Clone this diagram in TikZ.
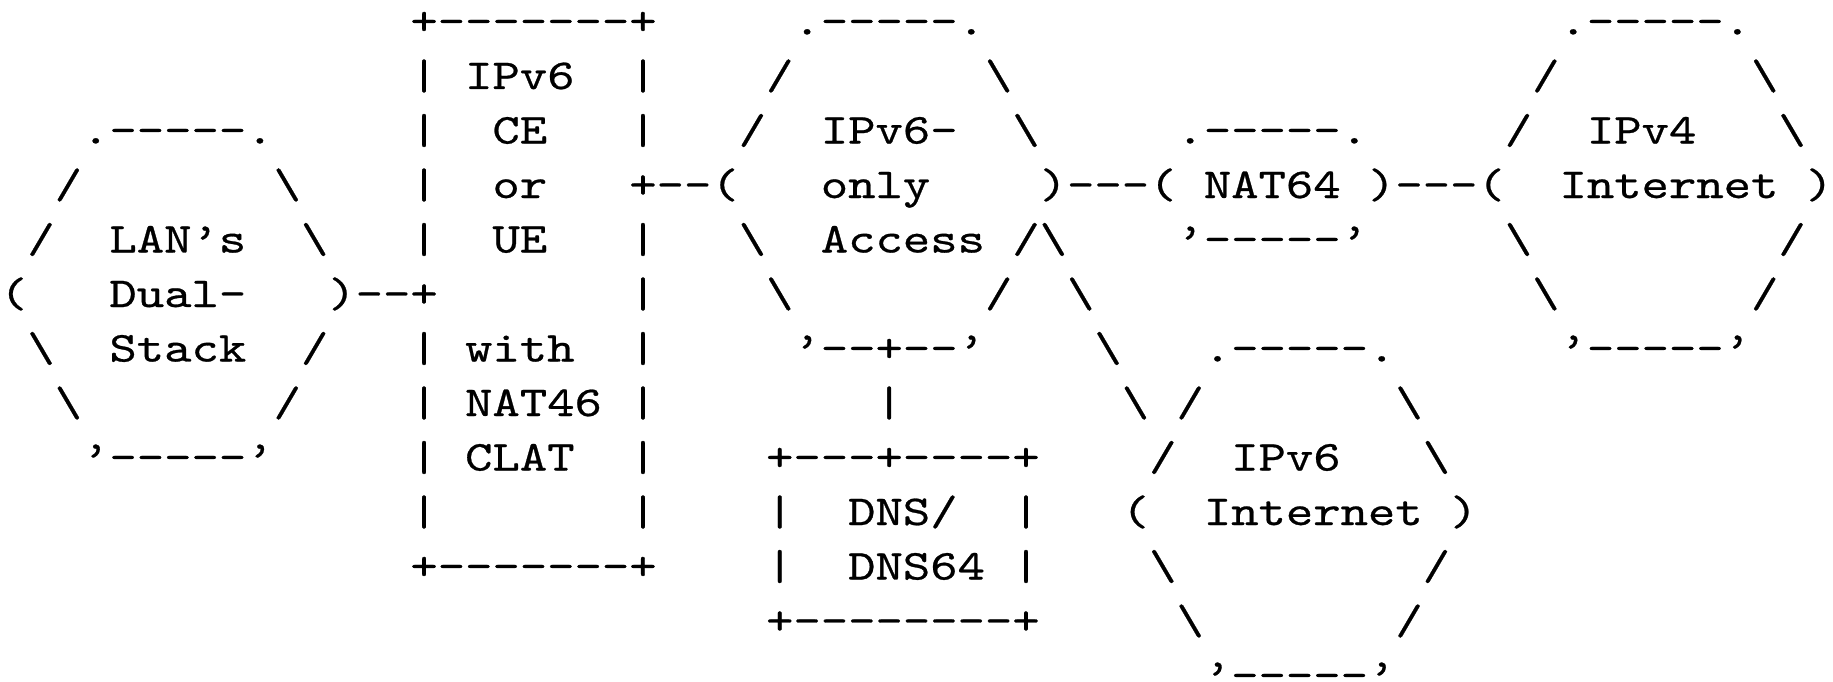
\documentclass[tikz,border=0pt]{standalone}
\usepackage{fontspec}
\setmonofont[FakeStretch=1.2233,FakeBold=0.6]{lmmono10-regular.otf}
\newcommand\bs{\textbackslash}
\tikzset{asc/.style={font=\ttfamily\fontsize{42.6}{50}\selectfont, anchor=base west, inner sep=0pt, outer sep=0pt, text=black}}
\newcommand\putseg[4]{\node[asc] (#1) at ({#3*27.36},{-34.5-54.5*#2}) {#4};}
\begin{document}
\begin{tikzpicture}[x=1pt,y=1pt]
\fill[white] (0,-682) rectangle (1833,0);
\useasboundingbox (0,-682) rectangle (1833,0);
% row 0
\putseg{boxtop}{0}{15}{+-------+}
\putseg{acctop}{0}{29}{.-----.}
\putseg{vfourtop}{0}{57}{.-----.}
% row 1
\putseg{r1a}{1}{15}{|}
\putseg{ipvsix}{1}{17}{IPv6}
\putseg{r1b}{1}{23}{|}
\putseg{r1c}{1}{28}{/}
\putseg{r1d}{1}{36}{\bs}
\putseg{r1e}{1}{56}{/}
\putseg{r1f}{1}{64}{\bs}
% row 2
\putseg{lantop}{2}{3}{.-----.}
\putseg{r2a}{2}{15}{|}
\putseg{ce}{2}{18}{CE}
\putseg{r2b}{2}{23}{|}
\putseg{r2c}{2}{27}{/}
\putseg{accipv}{2}{30}{IPv6-}
\putseg{r2d}{2}{37}{\bs}
\putseg{nattop}{2}{43}{.-----.}
\putseg{r2e}{2}{55}{/}
\putseg{ipvfour}{2}{58}{IPv4}
\putseg{r2f}{2}{65}{\bs}
% row 3
\putseg{r3a}{3}{2}{/}
\putseg{r3b}{3}{10}{\bs}
\putseg{r3c}{3}{15}{|}
\putseg{or}{3}{18}{or}
\putseg{r3d}{3}{23}{+--(}
\putseg{only}{3}{30}{only}
\putseg{r3e}{3}{38}{)---(}
\putseg{natsixfour}{3}{44}{NAT64}
\putseg{r3f}{3}{50}{)---(}
\putseg{inetfour}{3}{57}{Internet}
\putseg{r3g}{3}{66}{)}
% row 4
\putseg{r4a}{4}{1}{/}
\putseg{lans}{4}{4}{LAN’s}
\putseg{r4b}{4}{11}{\bs}
\putseg{r4c}{4}{15}{|}
\putseg{ue}{4}{18}{UE}
\putseg{r4d}{4}{23}{|}
\putseg{r4e}{4}{27}{\bs}
\putseg{access}{4}{30}{Access}
\putseg{r4f}{4}{37}{/\bs}
\putseg{natbot}{4}{43}{’-----’}
\putseg{r4g}{4}{55}{\bs}
\putseg{r4h}{4}{65}{/}
% row 5
\putseg{r5a}{5}{0}{(}
\putseg{dual}{5}{4}{Dual-}
\putseg{r5b}{5}{12}{)--+}
\putseg{r5c}{5}{23}{|}
\putseg{r5d}{5}{28}{\bs}
\putseg{r5e}{5}{36}{/}
\putseg{r5f}{5}{39}{\bs}
\putseg{r5g}{5}{56}{\bs}
\putseg{r5h}{5}{64}{/}
% row 6
\putseg{r6a}{6}{1}{\bs}
\putseg{stack}{6}{4}{Stack}
\putseg{r6b}{6}{11}{/}
\putseg{r6c}{6}{15}{|}
\putseg{with}{6}{17}{with}
\putseg{r6d}{6}{23}{|}
\putseg{accbot}{6}{29}{’--+--’}
\putseg{r6e}{6}{40}{\bs}
\putseg{inetsixtop}{6}{44}{.-----.}
\putseg{vfourbot}{6}{57}{’-----’}
% row 7
\putseg{r7a}{7}{2}{\bs}
\putseg{r7b}{7}{10}{/}
\putseg{r7c}{7}{15}{|}
\putseg{natfoursix}{7}{17}{NAT46}
\putseg{r7d}{7}{23}{|}
\putseg{r7e}{7}{32}{|}
\putseg{r7f}{7}{41}{\bs}
\putseg{r7g}{7}{43}{/}
\putseg{r7h}{7}{51}{\bs}
% row 8
\putseg{lanbot}{8}{3}{’-----’}
\putseg{r8a}{8}{15}{|}
\putseg{clat}{8}{17}{CLAT}
\putseg{r8b}{8}{23}{|}
\putseg{dnstop}{8}{28}{+---+----+}
\putseg{r8c}{8}{42}{/}
\putseg{inetsix}{8}{45}{IPv6}
\putseg{r8d}{8}{52}{\bs}
% row 9
\putseg{r9a}{9}{15}{|}
\putseg{r9b}{9}{23}{|}
\putseg{r9c}{9}{28}{|}
\putseg{dns}{9}{31}{DNS/}
\putseg{r9d}{9}{37}{|}
\putseg{r9e}{9}{41}{(}
\putseg{internetsix}{9}{44}{Internet}
\putseg{r9f}{9}{53}{)}
% row 10
\putseg{boxbot}{10}{15}{+-------+}
\putseg{r10a}{10}{28}{|}
\putseg{dnssixfour}{10}{31}{DNS64}
\putseg{r10b}{10}{37}{|}
\putseg{r10c}{10}{42}{\bs}
\putseg{r10d}{10}{52}{/}
% row 11
\putseg{dnsbot}{11}{28}{+--------+}
\putseg{r11a}{11}{43}{\bs}
\putseg{r11b}{11}{51}{/}
% row 12
\putseg{inetsixbot}{12}{44}{’-----’}
\end{tikzpicture}
\end{document}
